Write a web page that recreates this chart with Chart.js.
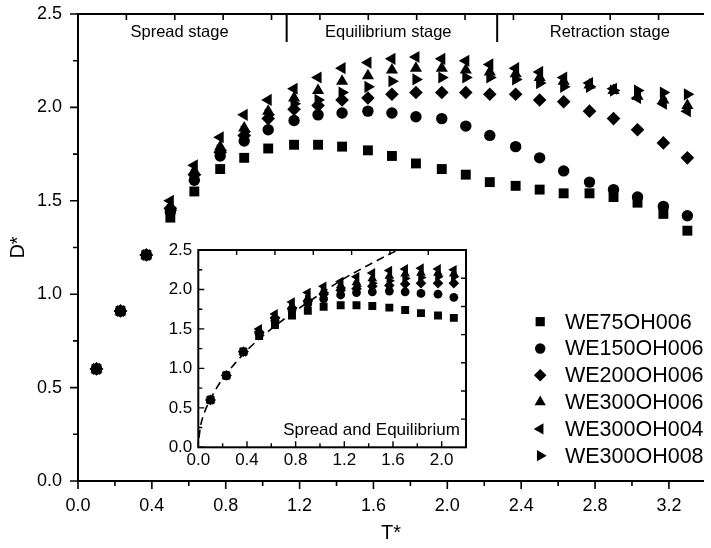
<!DOCTYPE html>
<html>
<head>
<meta charset="utf-8">
<script src="https://cdn.jsdelivr.net/npm/chart.js@4/dist/chart.umd.min.js"></script>
<style>
  html, body { margin: 0; padding: 0; background: #fff; }
  #wrap { position: relative; width: 711px; height: 548px; overflow: hidden; }
  #main { position: absolute; left: 0; top: 0; }
  #inset { position: absolute; left: 140px; top: 236px; }
</style>
</head>
<body>
<div id="wrap">
  <canvas id="main" width="711" height="548"></canvas>
  <canvas id="inset" width="340" height="240"></canvas>
</div>
<script>
// dimensionless time T* for every sample
const tStar = [0.10, 0.23, 0.37, 0.50, 0.63, 0.77, 0.90, 1.03, 1.17, 1.30, 1.43, 1.57, 1.70,
  1.83, 1.97, 2.10, 2.23, 2.37, 2.50, 2.63, 2.77, 2.90, 3.03, 3.17, 3.30]

// dimensionless spread diameter D*
const we75oh006 = [0.60, 0.91, 1.21, 1.41, 1.55, 1.67, 1.73, 1.78, 1.80, 1.80, 1.79, 1.77, 1.74,
  1.70, 1.67, 1.64, 1.60, 1.58, 1.56, 1.54, 1.54, 1.52, 1.49, 1.43, 1.34]
const we150oh006 = [0.60, 0.91, 1.21, 1.44, 1.61, 1.74, 1.82, 1.88, 1.93, 1.96, 1.97, 1.98, 1.97,
  1.95, 1.94, 1.90, 1.85, 1.79, 1.73, 1.66, 1.60, 1.56, 1.52, 1.47, 1.42]
const we200oh006 = [0.60, 0.91, 1.21, 1.46, 1.64, 1.76, 1.85, 1.94, 1.99, 2.01, 2.04, 2.05, 2.07,
  2.08, 2.08, 2.08, 2.07, 2.07, 2.04, 2.03, 1.98, 1.94, 1.88, 1.81, 1.73]
const we300oh006 = [0.60, 0.91, 1.21, 1.47, 1.66, 1.79, 1.89, 1.98, 2.05, 2.09, 2.14, 2.17, 2.20,
  2.21, 2.21, 2.20, 2.19, 2.18, 2.16, 2.14, 2.12, 2.09, 2.06, 2.04, 2.01]
const we300oh004 = [0.60, 0.91, 1.21, 1.50, 1.69, 1.84, 1.96, 2.04, 2.10, 2.16, 2.21, 2.24, 2.26,
  2.27, 2.26, 2.25, 2.23, 2.21, 2.19, 2.16, 2.13, 2.10, 2.05, 2.02, 1.98]
const we300oh008 = [0.60, 0.91, 1.21, 1.45, 1.64, 1.77, 1.87, 1.96, 2.02, 2.04, 2.08, 2.11, 2.14,
  2.15, 2.16, 2.16, 2.16, 2.15, 2.13, 2.11, 2.11, 2.09, 2.09, 2.08, 2.07]

const seriesNames = ['WE75OH006', 'WE150OH006', 'WE200OH006', 'WE300OH006', 'WE300OH004', 'WE300OH008']
const seriesValues = [we75oh006, we150oh006, we200oh006, we300oh006, we300oh004, we300oh008]

// dashed spreading fit in the inset
const fitT = [0.005, 0.02, 0.05, 0.10, 0.20, 0.30, 0.40, 0.60, 0.80, 1.00, 1.20, 1.40, 1.60, 1.75]
const fitD = [0.12, 0.28, 0.44, 0.61, 0.87, 1.06, 1.23, 1.50, 1.73, 1.94, 2.14, 2.31, 2.47, 2.58]

const stageNames = ['Spread stage', 'Equilibrium stage', 'Retraction stage']
const stageCenters = [0.55, 1.68, 2.88]
const stageBounds = [1.13, 2.27]

const mainXTicks = [0.0, 0.4, 0.8, 1.2, 1.6, 2.0, 2.4, 2.8, 3.2]
const mainYTicks = [0.0, 0.5, 1.0, 1.5, 2.0, 2.5]
const insetXTicks = [0.0, 0.4, 0.8, 1.2, 1.6, 2.0]
const insetYTicks = [0.0, 0.5, 1.0, 1.5, 2.0, 2.5]

const FONT = "'Liberation Sans', Arial, sans-serif"

// marker shape per series (main radius / inset radius)
const markers = [
  { style: 'rect', rot: 0, r: 7, ri: 5.6 },
  { style: 'circle', rot: 0, r: 5.7, ri: 4.4 },
  { style: 'rectRot', rot: 0, r: 6.8, ri: 5.3 },
  { style: 'triangle', rot: 0, r: 7, ri: 5.6 },
  { style: 'triangle', rot: 270, r: 7, ri: 5.6 },
  { style: 'triangle', rot: 90, r: 7, ri: 5.6 },
]

const setTicks = (values) => (scale) => {
  scale.ticks = values.map((v) => ({ value: v }))
}

// fixed axis box size, and no extra room for the end labels
const fixSize = (w, h) => (s) => {
  if (w) s.width = w
  if (h) s.height = h
  s.paddingTop = 0
  s.paddingBottom = 0
  s.paddingLeft = 0
  s.paddingRight = 0
}

function tickRun(ctx, scale, step, len, majorEvery, majorLen, dir, edge) {
  // dir: +1 / -1 pixel direction away from the edge
  for (let i = 0; i * step <= scale.max + 1e-6; i++) {
    const p = scale.getPixelForValue(i * step)
    const l = majorEvery && i % majorEvery === 0 ? majorLen : len
    if (scale.isHorizontal()) {
      ctx.moveTo(p, edge)
      ctx.lineTo(p, edge + dir * l)
    } else {
      ctx.moveTo(edge, p)
      ctx.lineTo(edge + dir * l, p)
    }
  }
}

const mainFrame = {
  id: 'mainFrame',
  afterDraw(chart) {
    const { ctx, chartArea: a, scales: { x, y } } = chart
    ctx.save()
    ctx.strokeStyle = '#000'
    ctx.lineWidth = 2
    ctx.beginPath()
    ctx.moveTo(a.right, a.top)
    ctx.lineTo(a.left, a.top)
    ctx.lineTo(a.left, a.bottom)
    ctx.lineTo(a.right, a.bottom)
    ctx.stroke()

    ctx.lineWidth = 1.6
    ctx.beginPath()
    tickRun(ctx, x, 0.2, 5, 2, 8, 1, a.bottom)
    tickRun(ctx, y, 0.25, 5, 2, 8, -1, a.left)
    // time ticks along the top edge
    for (let i = 1; i * 0.262 <= x.max; i++) {
      const p = x.getPixelForValue(i * 0.262)
      ctx.moveTo(p, a.top)
      ctx.lineTo(p, a.top + 6)
    }
    ctx.stroke()

    // stage boundaries
    ctx.lineWidth = 2
    ctx.beginPath()
    stageBounds.forEach((t) => {
      const p = x.getPixelForValue(t)
      ctx.moveTo(p, a.top)
      ctx.lineTo(p, a.top + 28)
    })
    ctx.stroke()

    ctx.fillStyle = '#000'
    ctx.font = '16.5px ' + FONT
    ctx.textAlign = 'center'
    ctx.textBaseline = 'middle'
    stageNames.forEach((s, i) => {
      ctx.fillText(s, x.getPixelForValue(stageCenters[i]), y.getPixelForValue(2.40))
    })

    // legend
    ctx.font = '21.5px ' + FONT
    ctx.textAlign = 'left'
    const mx = x.getPixelForValue(2.503)
    const tx = x.getPixelForValue(2.637)
    seriesNames.forEach((name, i) => {
      const py = y.getPixelForValue(0.853 - i * 0.1435)
      const m = markers[i]
      Chart.helpers.drawPoint(ctx, { pointStyle: m.style, rotation: m.rot, radius: m.r - 0.5, borderWidth: 0 }, mx, py)
      ctx.fillText(name, tx, py + 1)
    })
    ctx.restore()
  },
}

const insetFrame = {
  id: 'insetFrame',
  afterDraw(chart) {
    const { ctx, chartArea: a, scales: { x, y } } = chart
    ctx.save()
    ctx.strokeStyle = '#000'
    ctx.lineWidth = 2
    ctx.strokeRect(a.left, a.top, a.right - a.left, a.bottom - a.top)

    ctx.lineWidth = 1.4
    ctx.beginPath()
    tickRun(ctx, x, 0.2, 4, 2, 6, -1, a.bottom)
    tickRun(ctx, y, 0.25, 4, 2, 6, 1, a.left)
    for (let i = 1; i * 0.315 <= x.max; i++) {
      const p = x.getPixelForValue(i * 0.315)
      ctx.moveTo(p, a.top)
      ctx.lineTo(p, a.top + 5)
    }
    for (let i = 1; i * 0.357 <= y.max; i++) {
      const p = y.getPixelForValue(i * 0.357)
      ctx.moveTo(a.right, p)
      ctx.lineTo(a.right - 5, p)
    }
    ctx.stroke()

    ctx.fillStyle = '#000'
    ctx.font = '17px ' + FONT
    ctx.textAlign = 'right'
    ctx.textBaseline = 'middle'
    ctx.fillText('Spread and Equilibrium', x.getPixelForValue(2.15), y.getPixelForValue(0.22))
    ctx.restore()
  },
}

const pointSet = (i, radius, limit) => ({
  label: seriesNames[i],
  data: tStar.map((t, k) => ({ x: t, y: seriesValues[i][k] })).filter((p) => p.x <= limit),
  showLine: false,
  pointStyle: markers[i].style,
  pointRotation: markers[i].rot,
  pointRadius: radius,
  pointBackgroundColor: '#000',
  pointBorderColor: '#000',
  pointBorderWidth: 0,
})

const tickStyle = (size) => ({ color: '#000', font: { family: FONT, size } })

new Chart(document.getElementById('main'), {
  type: 'scatter',
  data: { datasets: seriesNames.map((_, i) => pointSet(i, markers[i].r, 99)) },
  options: {
    responsive: false,
    animation: false,
    layout: { padding: { top: 14, right: 0, left: 0, bottom: 0 } },
    plugins: { legend: { display: false }, tooltip: { enabled: false } },
    scales: {
      x: {
        type: 'linear', min: 0, max: 3.39,
        afterBuildTicks: setTicks(mainXTicks),
        afterFit: fixSize(0, 67),
        grid: { display: false, drawTicks: false },
        border: { display: false },
        ticks: { ...tickStyle(18), padding: 14, callback: (v) => v.toFixed(1) },
        title: { display: true, text: 'T*', color: '#000', font: { family: FONT, size: 20 }, padding: { bottom: 3 } },
      },
      y: {
        type: 'linear', min: 0, max: 2.5,
        afterBuildTicks: setTicks(mainYTicks),
        afterFit: fixSize(78, 0),
        grid: { display: false, drawTicks: false },
        border: { display: false },
        ticks: { ...tickStyle(18), padding: 16, callback: (v) => v.toFixed(1) },
        title: { display: true, text: 'D*', color: '#000', font: { family: FONT, size: 20 }, padding: { top: 6 } },
      },
    },
  },
  plugins: [mainFrame],
})

new Chart(document.getElementById('inset'), {
  type: 'scatter',
  data: {
    datasets: [
      {
        label: 'fit',
        data: fitT.map((t, k) => ({ x: t, y: fitD[k] })),
        showLine: true,
        borderColor: '#000',
        borderWidth: 1.6,
        borderDash: [8, 5],
        cubicInterpolationMode: 'monotone',
        pointRadius: 0,
        order: 10,
      },
      ...seriesNames.map((_, i) => pointSet(i, markers[i].ri, 2.15)),
    ],
  },
  options: {
    responsive: false,
    animation: false,
    layout: { padding: { top: 14, right: 14, left: 0, bottom: 0 } },
    plugins: { legend: { display: false }, tooltip: { enabled: false } },
    scales: {
      x: {
        type: 'linear', min: 0, max: 2.2,
        afterBuildTicks: setTicks(insetXTicks),
        afterFit: fixSize(0, 28.7),
        grid: { display: false, drawTicks: false },
        border: { display: false },
        ticks: { ...tickStyle(17), padding: 3, callback: (v) => v.toFixed(1) },
      },
      y: {
        type: 'linear', min: 0, max: 2.5,
        afterBuildTicks: setTicks(insetYTicks),
        afterFit: fixSize(58.3, 0),
        grid: { display: false, drawTicks: false },
        border: { display: false },
        ticks: { ...tickStyle(17), padding: 6, callback: (v) => v.toFixed(1) },
      },
    },
  },
  plugins: [insetFrame],
})
</script>
</body>
</html>
